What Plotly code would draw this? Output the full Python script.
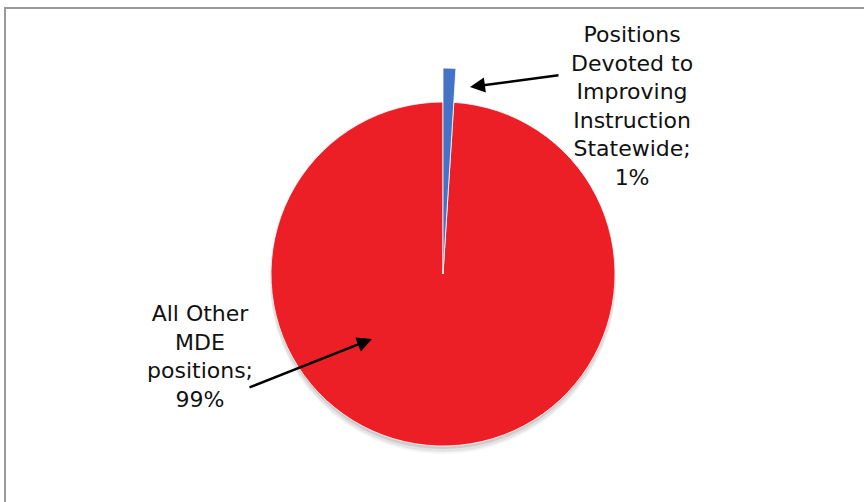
import plotly.graph_objects as go

# Staff positions at MDE, share of total (%)
categories = ["Positions Devoted to Improving Instruction Statewide", "All Other MDE positions"]
shares = [1, 99]
label_lines = [["Positions", "Devoted to", "Improving", "Instruction", "Statewide;", "1%"],
               ["All Other", "MDE", "positions;", "99%"]]

W, H = 864, 502
BLUE = "#4472C4"
RED = "#ED1F26"

# pie geometry in pixels
cx, cy = 443, 274
r_main = 172
r_out = 206


def dom(radius, dx=0, dy=0):
    x0 = (cx + dx - radius) / W
    x1 = (cx + dx + radius) / W
    yc = H - (cy + dy)
    return dict(x=[x0, x1], y=[(yc - radius) / H, (yc + radius) / H])


fig = go.Figure()

# soft drop shadow under the pie
for extra, shift, alpha in [(1, 7, 0.04), (1, 5, 0.07), (0, 3, 0.10)]:
    fig.add_trace(go.Pie(
        values=[sum(shares)], labels=["shadow"], sort=False,
        marker=dict(colors=[f"rgba(0,0,0,{alpha})"], line=dict(width=0)),
        textinfo="none", hoverinfo="skip", showlegend=False,
        domain=dom(r_main + extra, 0, shift)))

# main pie
fig.add_trace(go.Pie(
    values=shares, labels=categories, sort=False, direction="clockwise", rotation=0,
    marker=dict(colors=[BLUE, RED], line=dict(color="rgba(255,255,255,0.8)", width=1)),
    textinfo="none", hoverinfo="label+percent", showlegend=False,
    domain=dom(r_main)))

# highlighted slice extends beyond the rim
fig.add_trace(go.Pie(
    values=shares, labels=categories, sort=False, direction="clockwise", rotation=0,
    marker=dict(colors=[BLUE, "rgba(0,0,0,0)"],
                line=dict(color=["rgba(255,255,255,0.8)", "rgba(0,0,0,0)"], width=1)),
    textinfo="none", hoverinfo="skip", showlegend=False,
    domain=dom(r_out)))

font = dict(family="DejaVu Sans", size=22, color="#111111")

annotations = [
    dict(x=632 / W, y=1 - 106 / H, xref="paper", yref="paper",
         text="<br>".join(label_lines[0]), showarrow=False, align="center",
         xanchor="center", yanchor="middle", font=font),
    dict(x=200 / W, y=1 - 356 / H, xref="paper", yref="paper",
         text="<br>".join(label_lines[1]), showarrow=False, align="center",
         xanchor="center", yanchor="middle", font=font),
    # leader arrows
    dict(x=470 / W, y=1 - 87 / H, xref="paper", yref="paper", text="",
         showarrow=True, ax=90, ay=-12, arrowhead=2, arrowsize=1.2,
         arrowwidth=2.5, arrowcolor="black"),
    dict(x=372 / W, y=1 - 339 / H, xref="paper", yref="paper", text="",
         showarrow=True, ax=-124, ay=49, arrowhead=2, arrowsize=1.2,
         arrowwidth=2.5, arrowcolor="black"),
]

shapes = [
    dict(type="rect", xref="paper", yref="paper",
         x0=5 / W, x1=1.2, y0=-0.2, y1=1 - 8 / H,
         line=dict(color="#9A9A9A", width=2), fillcolor="rgba(0,0,0,0)", layer="below"),
]

fig.update_layout(
    width=W, height=H,
    margin=dict(l=0, r=0, t=0, b=0),
    paper_bgcolor="white", plot_bgcolor="white",
    annotations=annotations, shapes=shapes,
)

fig.write_html("out.html")
